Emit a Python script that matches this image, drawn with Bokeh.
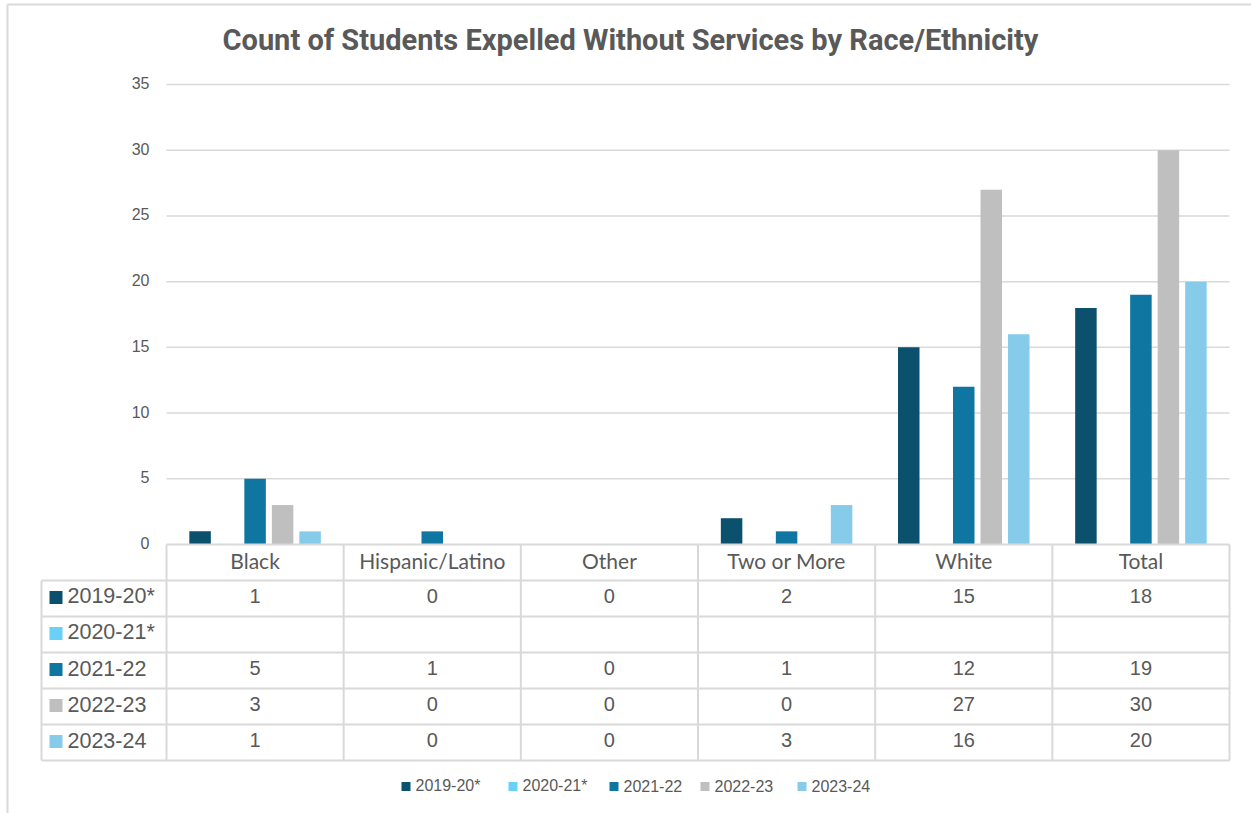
from bokeh.plotting import figure
from bokeh.models import Range1d
from bokeh.core.properties import value
from bokeh.embed import file_html
from bokeh.resources import INLINE

# ---- data ----
categories = ["Black", "Hispanic/Latino", "Other", "Two or More", "White", "Total"]
series_names = ["2019-20*", "2020-21*", "2021-22", "2022-23", "2023-24"]
v_2019_20 = [1, 0, 0, 2, 15, 18]
v_2020_21 = [None, None, None, None, None, None]
v_2021_22 = [5, 1, 0, 1, 12, 19]
v_2022_23 = [3, 0, 0, 0, 27, 30]
v_2023_24 = [1, 0, 0, 3, 16, 20]
series_values = [v_2019_20, v_2020_21, v_2021_22, v_2022_23, v_2023_24]
colors = ["#0B506C", "#6BD0F7", "#0E76A0", "#BFBFBF", "#86CBEA"]
y_ticks = [0, 5, 10, 15, 20, 25, 30, 35]
title = "Count of Students Expelled Without Services by Race/Ethnicity"

# ---- layout helpers (pixel -> data units) ----
W, H = 1251, 813
X0PX, X6PX = 166, 1229
Y0PX, Y35PX = 544, 84
sx = (X6PX - X0PX) / 6.0
sy = (Y0PX - Y35PX) / 35.0
def xd(px):
    return (px - X0PX) / sx
def yd(py):
    return (Y0PX - py) / sy

p = figure(width=W, height=H, x_range=Range1d(xd(0), xd(W)), y_range=Range1d(yd(H), yd(0)),
           output_backend="svg", toolbar_location=None, min_border=0)
p.axis.visible = False
p.grid.visible = False
p.outline_line_color = None
p.background_fill_color = "white"
p.border_fill_color = "white"

GRID = "#D9D9D9"
TXT = "#595959"

# outer chart border
p.segment(x0=[xd(7), xd(7)], y0=[yd(4), yd(4)], x1=[xd(W + 5), xd(7)], y1=[yd(4), yd(H + 5)],
          line_color=GRID, line_width=2)

# title
p.text(x=[xd(630)], y=[yd(39)], text=[title], text_font=value("Roboto"), text_font_style="bold",
       text_font_size="29px", text_color=TXT, text_align="center", text_baseline="middle")

# gridlines and y tick labels
gt = [t for t in y_ticks if t > 0]
p.segment(x0=[0] * len(gt), y0=gt, x1=[6] * len(gt), y1=gt, line_color=GRID, line_width=1.5)
p.text(x=[xd(149)] * len(y_ticks), y=[t + 1.5 / sy for t in y_ticks], text=[str(t) for t in y_ticks],
       text_font=value("Liberation Sans"), text_font_size="16px", text_color=TXT,
       text_align="right", text_baseline="middle")

# bars
step = 27.5 / sx
bw = 21.5 / sx
for k, (name, vals, c) in enumerate(zip(series_names, series_values, colors)):
    xs, hs = [], []
    for i, v in enumerate(vals):
        if v is None:
            continue
        xs.append(i + 0.5 + (k - 2) * step)
        hs.append(v)
    if xs:
        p.vbar(x=xs, top=hs, bottom=0, width=bw, fill_color=c, line_color=None)

# data table
rh = 36.0 / sy
xl = xd(41)
nrows = len(series_names)
dy = 2.5 / sy  # small upward text nudge
# horizontal lines
hx0 = [0] + [xl] * (nrows + 1)
hy = [0] + [-(r + 1) * rh for r in range(nrows + 1)]
p.segment(x0=hx0, y0=hy, x1=[6] * len(hy), y1=hy, line_color=GRID, line_width=2)
# vertical lines
vx = list(range(7))
p.segment(x0=vx, y0=[0] * 7, x1=vx, y1=[-(nrows + 1) * rh] * 7, line_color=GRID, line_width=2)
p.segment(x0=[xl], y0=[-rh], x1=[xl], y1=[-(nrows + 1) * rh], line_color=GRID, line_width=2)

# category labels
p.text(x=[i + 0.5 for i in range(len(categories))], y=[-0.5 * rh + dy] * len(categories), text=categories,
       text_font=value("Lato"), text_font_size="21px", text_color=TXT,
       text_align="center", text_baseline="middle")

# series rows
for r, (name, vals, c) in enumerate(zip(series_names, series_values, colors)):
    yc = -(r + 1.5) * rh
    p.rect(x=[xd(55.5)], y=[yc + 1.0 / sy], width=13 / sx, height=13 / sy, fill_color=c, line_color=None)
    p.text(x=[xd(67)], y=[yc + dy], text=[name], text_font=value("Liberation Sans"), text_font_size="21.5px",
           text_color=TXT, text_align="left", text_baseline="middle")
    xs = [i + 0.5 for i, v in enumerate(vals) if v is not None]
    ts = [str(v) for v in vals if v is not None]
    if xs:
        p.text(x=xs, y=[yc + dy] * len(xs), text=ts, text_font=value("Liberation Sans"), text_font_size="20px",
               text_color=TXT, text_align="center", text_baseline="middle")

# bottom legend
leg_x = [401, 508, 609, 700, 797]
ly = yd(786)
for name, c, lx in zip(series_names, colors, leg_x):
    p.rect(x=[xd(lx + 4.5)], y=[ly], width=9 / sx, height=9 / sy, fill_color=c, line_color=None)
    p.text(x=[xd(lx + 14)], y=[ly + 1.0 / sy], text=[name], text_font=value("Liberation Sans"), text_font_size="16px",
           text_color=TXT, text_align="left", text_baseline="middle")

open("out.html", "w").write(file_html(p, INLINE))
